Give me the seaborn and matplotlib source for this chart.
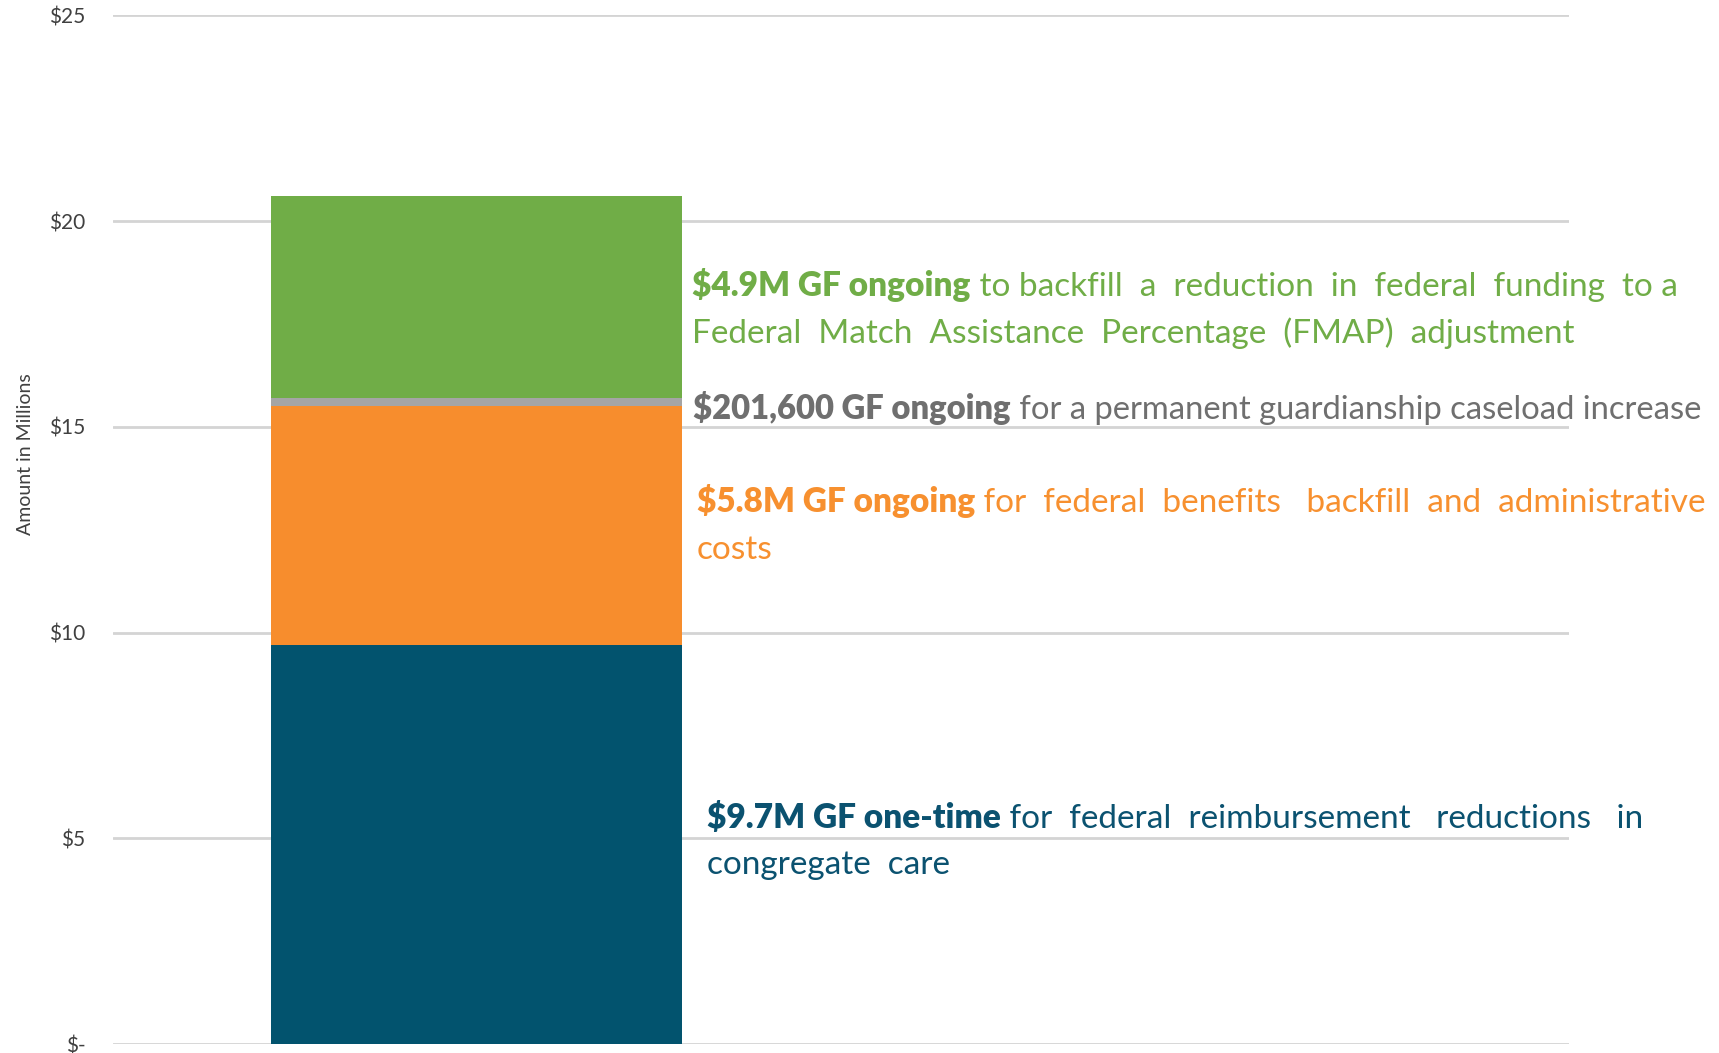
import matplotlib.pyplot as plt
import seaborn as sns
import pandas as pd

# segments, bottom to top (values in $ millions)
labels = ['One-time', 'Ongoing FMAP', 'Guardianship', 'FMAP adjustment']
amounts = [9.7, 5.8, 0.2016, 4.9]
colors = ['#02536E', '#F78D2D', '#A5A5A5', '#70AD47']
text_colors = ['#0B5270', '#F7902F', '#6F6F6F', '#70AD47']

bold_parts = ['$9.7M GF one-time', '$5.8M GF ongoing', '$201,600 GF ongoing', '$4.9M GF ongoing']
first_lines = [' for  federal  reimbursement   reductions   in',
               ' for  federal  benefits   backfill  and  administrative',
               ' for a permanent guardianship caseload increase',
               ' to backfill  a  reduction  in  federal  funding  to a']
second_lines = ['congregate  care', 'costs', '',
                'Federal  Match  Assistance  Percentage  (FMAP)  adjustment']

ticks = [0, 5, 10, 15, 20, 25]
tick_labels = ['$-', '$5', '$10', '$15', '$20', '$25']

sns.set_style('white')
plt.rcParams['font.family'] = ['Lato', 'DejaVu Sans']

fig = plt.figure(figsize=(17.19, 10.53), dpi=100)
ax = fig.add_axes([0.0657, 0.0085, 0.847, 0.977])

# stacked bar: draw cumulative totals from the top down
df = pd.DataFrame({'cat': ['Budget'] * 4, 'amount': amounts, 'part': labels})
df['top'] = df['amount'].cumsum()
for i in range(len(df) - 1, -1, -1):
    sns.barplot(x=df['cat'].iloc[[i]], y=df['top'].iloc[[i]], color=colors[i],
                width=0.8, saturation=1, linewidth=0, ax=ax, zorder=2)

ax.set_xlim(-0.708, 2.129)
ax.set_ylim(0, 25)
ax.set_yticks(ticks)
ax.set_yticklabels(tick_labels, fontsize=15, color='#404040')
ax.tick_params(axis='y', length=0, pad=20)
ax.set_xticks([])
ax.set_xlabel('')
ax.set_ylabel('Amount in Millions', fontsize=14, color='#404040')
ax.yaxis.set_label_coords(-0.054, 0.573)
ax.yaxis.grid(True, color='#d4d4d4', linewidth=2, zorder=0)
ax.set_axisbelow(True)
for s in ax.spines.values():
    s.set_visible(False)

# annotations (x in axes fraction, y in data units)
text_x = [0.408, 0.401, 0.3985, 0.398]
line1_y = [5.25, 12.93, 15.19, 18.18]
line2_y = [4.13, 11.78, None, 17.03]
sizes = [24, 24, 23.6, 24]
tr = ax.get_yaxis_transform()
for i in range(4):
    b = ax.text(text_x[i], line1_y[i], bold_parts[i], transform=tr, fontsize=sizes[i],
                fontweight='heavy', color=text_colors[i], va='baseline', ha='left',
                clip_on=False)
    ax.annotate(first_lines[i], xy=(1, 0), xycoords=b, fontsize=sizes[i],
                color=text_colors[i], va='bottom', ha='left', annotation_clip=False)
    if second_lines[i]:
        ax.text(text_x[i], line2_y[i], second_lines[i], transform=tr, fontsize=sizes[i],
                color=text_colors[i], va='baseline', ha='left', clip_on=False)

fig.savefig('out.png', dpi=100)
